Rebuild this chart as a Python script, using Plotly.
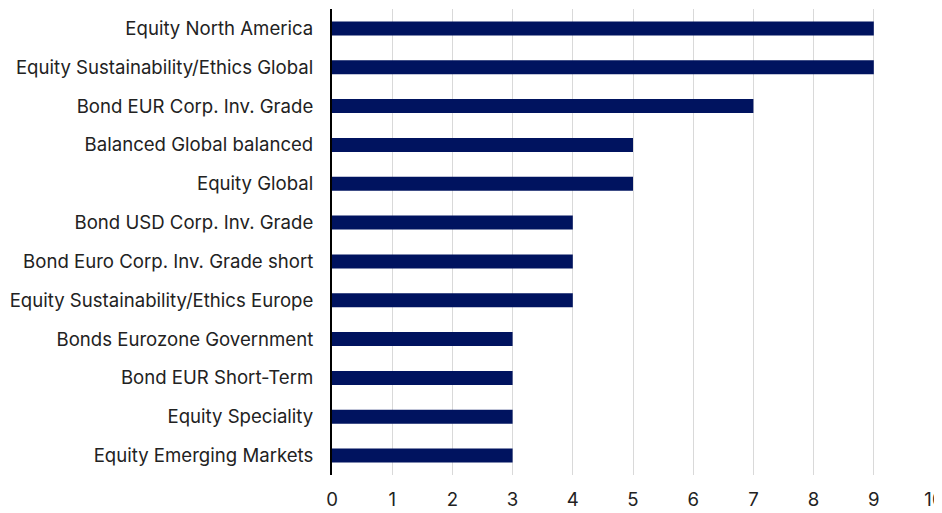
import plotly.graph_objects as go

categories = [
    "Equity North America",
    "Equity Sustainability/Ethics Global",
    "Bond EUR Corp. Inv. Grade",
    "Balanced Global balanced",
    "Equity Global",
    "Bond USD Corp. Inv. Grade",
    "Bond Euro Corp. Inv. Grade short",
    "Equity Sustainability/Ethics Europe",
    "Bonds Eurozone Government",
    "Bond EUR Short-Term",
    "Equity Speciality",
    "Equity Emerging Markets",
]
values = [9, 9, 7, 5, 5, 4, 4, 4, 3, 3, 3, 3]
x_ticks = list(range(0, 11))

fig = go.Figure(go.Bar(
    x=values,
    y=categories,
    orientation="h",
    marker=dict(color="#00135f", line=dict(width=0)),
    width=0.36,
))

fig.update_layout(
    width=942,
    height=513,
    margin=dict(l=324, r=16, t=1, b=46, autoexpand=False),
    paper_bgcolor="white",
    plot_bgcolor="white",
    font=dict(family="Inter", size=18.6, color="#222222"),
    showlegend=False,
)
fig.update_xaxes(
    range=[0, 10],
    tickvals=x_ticks,
    showgrid=True,
    gridcolor="#d9d9d9",
    gridwidth=1,
    zeroline=False,
    showline=False,
    ticks="",
    ticklabelstandoff=11,
)
fig.update_yaxes(
    categoryorder="array",
    categoryarray=categories[::-1],
    range=[-0.5, len(categories) - 0.5],
    showgrid=False,
    showline=True,
    linecolor="black",
    linewidth=2,
    ticks="",
    ticklabelstandoff=13,
)

fig.write_html("out.html")
